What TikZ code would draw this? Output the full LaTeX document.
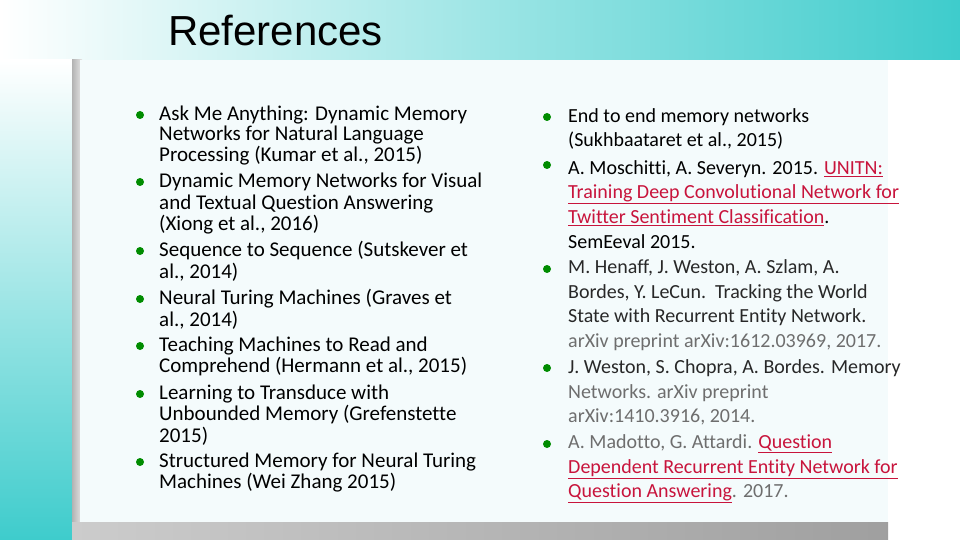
\documentclass[tikz,border=0pt]{standalone}
\usepackage{fontspec}
\setmainfont{Carlito}[RawFeature=-liga]
\newfontfamily\headfont{Liberation Sans}
\begin{document}
\begin{tikzpicture}[x=1pt,y=-1pt,
  ln/.style={anchor=west,inner sep=0pt,font=\fontsize{20}{21}\selectfont},
  lnl/.style={anchor=west,inner sep=0pt,font=\fontsize{21}{21}\selectfont},
  bul/.style={circle,fill=green!55!black,inner sep=0pt,minimum size=8pt}]
\useasboundingbox (0,0) rectangle (960,540);
\definecolor{teal1}{RGB}{62,204,204}
\definecolor{panel}{RGB}{244,251,252}
\definecolor{linkred}{RGB}{200,20,60}
\definecolor{tdark}{RGB}{40,40,40}
\definecolor{tgray}{RGB}{110,110,110}
\newcommand{\lk}[1]{\textcolor{linkred}{\underline{#1}}}
% backgrounds
\fill[white] (0,0) rectangle (960,540);
\shade[left color=white,right color=teal1] (0,0) rectangle (960,60);
\shade[top color=white,bottom color=teal1] (0,60) rectangle (72,540);
\shade[left color=gray!60,right color=gray!20] (72,60) rectangle (82,540);
\shade[left color=gray!40,right color=gray!75] (72,522) rectangle (888,540);
\fill[panel] (80,60) rectangle (888,522);
\node[anchor=west,inner sep=0pt,font=\headfont\fontsize{42}{42}\selectfont] (title) at (168,31) {References};
% left column bullets
\foreach \y [count=\i] in {115,182,251,299,346,394,462} \node[bul] (lb\i) at (140,\y) {};
% left column text
\node[lnl] (l1) at (159,115) {Ask Me Anything: Dynamic Memory};
\node[lnl] (l2) at (159,135) {Networks for Natural Language};
\node[lnl] (l3) at (159,156) {Processing (Kumar et al., 2015)};
\node[lnl] (l4) at (159,182) {Dynamic Memory Networks for Visual};
\node[lnl] (l5) at (159,204) {and Textual Question Answering};
\node[lnl] (l6) at (159,225) {(Xiong et al., 2016)};
\node[lnl] (l7) at (159,251) {Sequence to Sequence (Sutskever et};
\node[lnl] (l8) at (159,272) {al., 2014)};
\node[lnl] (l9) at (159,299) {Neural Turing Machines (Graves et};
\node[lnl] (l10) at (159,320) {al., 2014)};
\node[lnl] (l11) at (159,346) {Teaching Machines to Read and};
\node[lnl] (l12) at (159,367) {Comprehend (Hermann et al., 2015)};
\node[lnl] (l13) at (159,394) {Learning to Transduce with};
\node[lnl] (l14) at (159,415) {Unbounded Memory (Grefenstette};
\node[lnl] (l15) at (159,436) {2015)};
\node[lnl] (l16) at (159,462) {Structured Memory for Neural Turing};
\node[lnl] (l17) at (159,483) {Machines (Wei Zhang 2015)};
% right column bullets
\foreach \y [count=\i] in {117,165,269,368,444} \node[bul] (rb\i) at (547,\y) {};
% right column text
\node[ln] (r1) at (568,117) {End to end memory networks};
\node[ln] (r2) at (568,141) {(Sukhbaataret et al., 2015)};
\node[ln] (r3) at (568,169) {A. Moschitti, A. Severyn. 2015. \lk{UNITN:}};
\node[ln] (r4) at (568,194) {\lk{Training Deep Convolutional Network for}};
\node[ln] (r5) at (568,218) {\lk{Twitter Sentiment Classification}.};
\node[ln] (r6) at (568,242) {SemEeval 2015.};
\node[ln,text=tdark] (r7) at (568,268) {M. Henaff, J. Weston, A. Szlam, A.};
\node[ln,text=tdark] (r8) at (568,293) {Bordes, Y. LeCun.\ \ Tracking the World};
\node[ln,text=tdark] (r9) at (568,317) {State with Recurrent Entity Network.};
\node[ln,text=tgray] (r10) at (568,342) {arXiv preprint arXiv:1612.03969, 2017.};
\node[ln,text=tdark] (r11) at (568,368) {J. Weston, S. Chopra, A. Bordes. Memory};
\node[ln,text=tgray] (r12) at (568,393) {Networks. arXiv preprint};
\node[ln,text=tgray] (r13) at (568,417) {arXiv:1410.3916, 2014.};
\node[ln,text=tgray] (r14) at (568,444) {A. Madotto, G. Attardi. \lk{Question}};
\node[ln] (r15) at (568,469) {\lk{Dependent Recurrent Entity Network for}};
\node[ln,text=tgray] (r16) at (568,493) {\lk{Question Answering}. 2017.};
\end{tikzpicture}
\end{document}
